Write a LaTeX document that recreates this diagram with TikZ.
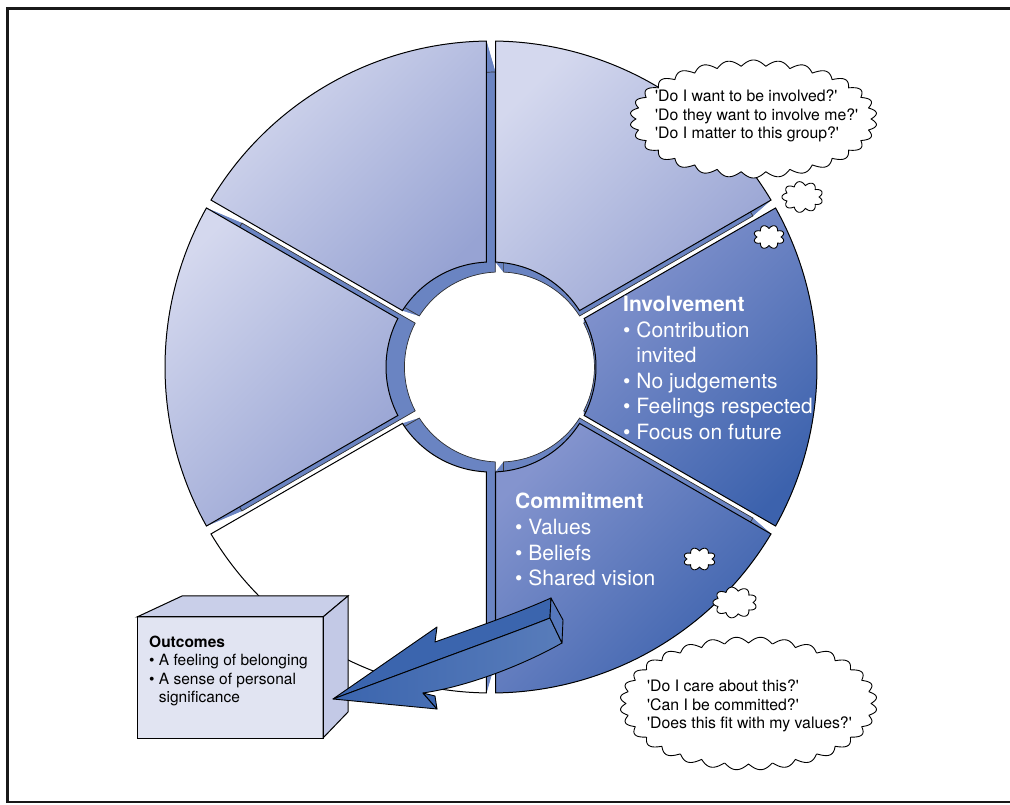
\documentclass[tikz,border=0pt]{standalone}
\usepackage{fontspec}
\setmainfont{TeX Gyre Heros}
\usetikzlibrary{calc, positioning}

\definecolor{paleblue}{HTML}{D4D8EE}
\definecolor{midblue}{HTML}{97A3D3}
\definecolor{richtop}{HTML}{8494CE}
\definecolor{richblue}{HTML}{3C62AD}
\definecolor{wallblue}{HTML}{6A84C2}
\definecolor{arrowtop}{HTML}{3B65AE}
\definecolor{arrowend}{HTML}{5577BB}
\definecolor{arrowlight}{HTML}{8FA0D3}
\definecolor{boxfront}{HTML}{E1E4F2}
\definecolor{boxtop}{HTML}{C9CFE9}
\definecolor{boxside}{HTML}{C3C9E6}

\tikzset{
  wall/.style={fill=wallblue},
  backedge/.style={draw=black!80, line width=0.7pt},
  pale/.style={draw=black, line width=1pt, top color=paleblue, bottom color=midblue, shading angle=45},
  rich/.style={draw=black, line width=1pt, top color=richtop, bottom color=richblue, shading angle=45},
  blank/.style={draw=black, line width=1pt, fill=white},
  bubbleline/.style={draw=black, fill=white, line width=0.9pt, line join=round},
  asktext/.style={inner sep=0pt, anchor=base west, align=left,
    font=\fontsize{15.8}{18.4}\selectfont},
  ringtext/.style={text=white, inner sep=0pt, anchor=base west, align=left,
    font=\fontsize{21}{25.5}\selectfont},
  boxface/.style={draw=black, line width=1pt},
  arrowface/.style={draw=black, line width=0.9pt, line join=round},
}

\newcommand{\askq}[1]{\textquotesingle#1\textquotesingle}

% thought bubble: centre x, centre y, half width, half height, puff depth, puffs
\newcommand{\bubble}[6]{%
  \filldraw[bubbleline] plot[domain=0:360, samples=721, variable=\t]
    ({#1+(#3+#5*abs(sin(#6*\t/2)))*cos(\t)}, {#2+(#4+#5*abs(sin(#6*\t/2)))*sin(\t)}) -- cycle;
}

% corners of one piece of the ring: front face and its copy pushed back towards V
\newcommand{\piececorners}[2]{%
  \pgfmathsetmacro{\segAo}{#1+0.8}\pgfmathsetmacro{\segBo}{#2-0.8}%
  \pgfmathsetmacro{\segAi}{#1+2.5}\pgfmathsetmacro{\segBi}{#2-2.5}%
  \coordinate (fo1) at ([shift={(C)}]\segAo:326);
  \coordinate (fo2) at ([shift={(C)}]\segBo:326);
  \coordinate (fi1) at ([shift={(C)}]\segAi:105);
  \coordinate (fi2) at ([shift={(C)}]\segBi:105);
  \coordinate (bo1) at ($(V)!0.905!(fo1)$);
  \coordinate (bo2) at ($(V)!0.905!(fo2)$);
  \coordinate (bi1) at ($(V)!0.905!(fi1)$);
  \coordinate (bi2) at ($(V)!0.905!(fi2)$);
}

\newcommand{\piecewall}[2]{%
  \piececorners{#1}{#2}
  \fill[wall] (fo1) -- (fi1) -- (bi1) -- (bo1) -- cycle;
  \fill[wall] (fo2) -- (fi2) -- (bi2) -- (bo2) -- cycle;
  \fill[wall] (fi1) arc[start angle=\segAi, end angle=\segBi, radius=105]
    -- (bi2) arc[start angle=\segBi, end angle=\segAi, radius=95.03] -- cycle;
  \fill[wall] (fo1) arc[start angle=\segAo, end angle=\segBo, radius=326]
    -- (bo2) arc[start angle=\segBo, end angle=\segAo, radius=295.03] -- cycle;
  \path[wall, backedge] (bo1) arc[start angle=\segAo, end angle=\segBo, radius=295.03]
    -- (bi2) arc[start angle=\segBi, end angle=\segAi, radius=95.03] -- cycle;
}

\newcommand{\piecefront}[3]{%
  \piececorners{#1}{#2}
  \path[#3] (fo1) arc[start angle=\segAo, end angle=\segBo, radius=326]
    -- (fi2) arc[start angle=\segBi, end angle=\segAi, radius=105] -- cycle;
}

\begin{document}
\begin{tikzpicture}[x=1pt, y=1pt]
  \useasboundingbox (0,0) rectangle (1010,804);
  \clip (0,0) rectangle (1010,804);

  % Frame
  \draw[line width=2.5pt, black!90] (7.5,795.5) rectangle (1030,2);

  \coordinate (C) at (491,437);
  \coordinate (V) at (580,437);

  % Ring: walls first, then the faces
  \foreach \a/\b in {30/90, 90/150, 150/210, 210/270, 270/330, -30/30} {
    \piecewall{\a}{\b}
  }
  \piecefront{30}{90}{pale}
  \piecefront{90}{150}{pale}
  \piecefront{150}{210}{pale}
  \piecefront{210}{270}{blank}
  \piecefront{270}{330}{rich}
  \piecefront{-30}{30}{rich}

  % Texts on the ring (placed by the baseline of the last line)
  \node[ringtext] (involve) at (623,364.5)
    {\textbf{Involvement}\\
     \textbullet\ Contribution\\
     \phantom{\textbullet\ }invited\\
     \textbullet\ No judgements\\
     \textbullet\ Feelings respected\\
     \textbullet\ Focus on future};
  \node[ringtext] (commit) at (515,218.5)
    {\textbf{Commitment}\\
     \textbullet\ Values\\
     \textbullet\ Beliefs\\
     \textbullet\ Shared vision};

  % Thought bubbles
  \bubble{753.5}{685}{117.5}{53}{6}{30}
  \bubble{802.5}{607}{16.5}{11.5}{4}{9}
  \bubble{769}{567}{12}{8.5}{3.5}{8}
  \bubble{699.5}{245}{12.5}{8}{3.5}{8}
  \bubble{735}{201.5}{18}{11.5}{4}{9}
  \bubble{748.5}{100.5}{122.5}{60.5}{6}{32}
  \node[asktext] (asktop) at (655,665.5)
    {\askq{Do I want to be involved?}\\
     \askq{Do they want to involve me?}\\
     \askq{Do I matter to this group?}};
  \node[asktext] (askbot) at (647,75.5)
    {\askq{Do I care about this?}\\
     \askq{Can I be committed?}\\
     \askq{Does this fit with my values?}};

  % Outcomes box
  \fill[boxfront, boxface] (137,66) rectangle (323,187);
  \filldraw[fill=boxtop, boxface] (137,187) -- (182,208) -- (348,208) -- (323,187) -- cycle;
  \filldraw[fill=boxside, boxface] (323,187) -- (348,208) -- (348,92) -- (323,66) -- cycle;
  \draw[boxface] (137,66) rectangle (323,187);
  \node[inner sep=0pt, anchor=base west, align=left,
        font=\fontsize{15.5}{18.5}\selectfont] (outcome) at (149,101.5)
    {\textbf{Outcomes}\\
     \textbullet\ A feeling of belonging\\
     \textbullet\ A sense of personal\\
     \phantom{\textbullet\ }significance};

  % Arrow from the ring to the box
  \coordinate (tip) at (333,105);
  \coordinate (barb) at (437,177);
  \coordinate (notch) at (419,137);
  \coordinate (backstart) at (435,162);
  \coordinate (endback) at (551,206);
  \coordinate (endfront) at (550,186);
  \coordinate (endright) at (563,184);
  \coordinate (endlow) at (562,161);
  \coordinate (lowin) at (423,111);
  \coordinate (lowout) at (437,95);
  \filldraw[fill=arrowtop, arrowface] (tip) -- (barb) -- (backstart)
    .. controls (480,178) and (520,192) .. (endback) -- (endfront)
    .. controls (520,174) and (470,156) .. (notch) -- cycle;
  \path[arrowface, left color=arrowtop, middle color=arrowlight, right color=arrowtop!85!white]
    (tip) -- (notch) .. controls (470,156) and (520,174) .. (endfront)
    -- (endlow) .. controls (525,140) and (470,118) .. (lowin) -- (lowout) -- cycle;
  \filldraw[fill=arrowtop, arrowface] (lowin) -- (lowout) -- (435,108) -- cycle;
  \filldraw[fill=arrowend, arrowface] (endback) -- (endright) -- (endlow) -- (endfront) -- cycle;
\end{tikzpicture}
\end{document}
